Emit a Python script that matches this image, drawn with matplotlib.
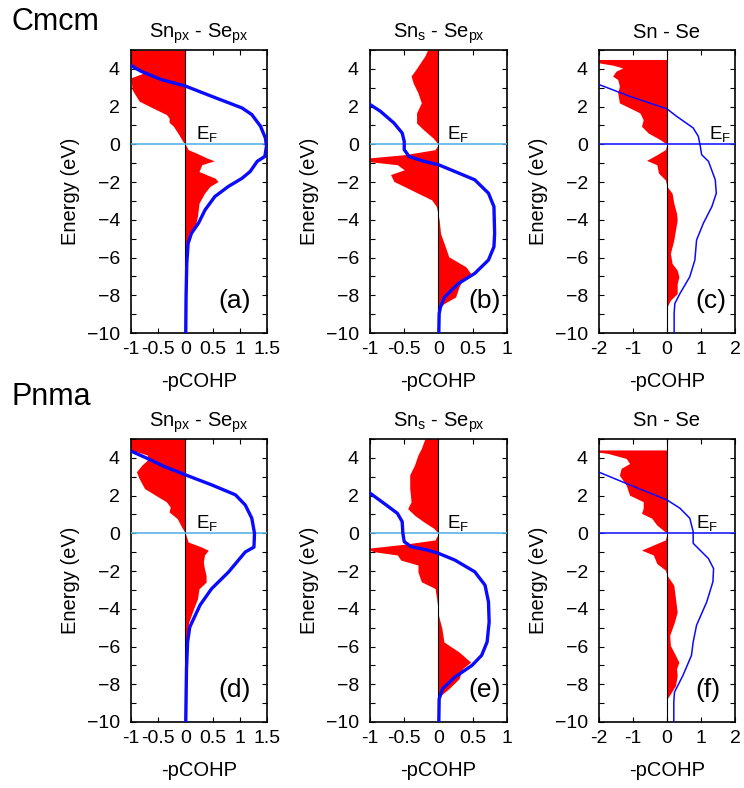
import numpy as np
import matplotlib
matplotlib.use("Agg")
import matplotlib.pyplot as plt
from matplotlib.ticker import MultipleLocator

plt.rcParams['font.family'] = ['Liberation Sans', 'DejaVu Sans']
plt.rcParams['mathtext.fontset'] = 'custom'
plt.rcParams['mathtext.rm'] = 'Liberation Sans'
plt.rcParams['mathtext.it'] = 'Liberation Sans:italic'

# -pCOHP (red fill) and integrated COHP (blue line), energy in eV
# (a) Cmcm Sn px - Se px
a_cohp_e = [5.0, 4.24, 4.06, 3.8, 3.53, 2.9, 2.29, 1.93, 1.58, 1.4, 1.17, 0.96, 0.51, 0.16, 0.0,
            -0.28, -0.46, -0.73, -0.87, -1.08, -1.44, -1.8, -1.97, -2.23, -2.59, -3.12, -3.83,
            -4.36, -4.7, -5.25, -6.1, -7.2, -8.0, -10.0]
a_cohp = [-1.3, -1.2, -0.9, -0.75, -1.0, -0.98, -0.85, -0.6, -0.35, -0.3, -0.3, -0.22, -0.12, -0.05, 0.0,
          0.05, 0.2, 0.4, 0.53, 0.3, 0.25, 0.55, 0.6, 0.45, 0.35, 0.25, 0.22,
          0.18, 0.07, 0.03, 0.01, 0.005, 0.0, 0.0]
a_icohp_e = [4.5, 4.18, 3.88, 3.44, 3.09, 2.55, 1.93, 1.58, 0.96, 0.34, -0.1, -0.64, -0.9, -1.44, -1.8,
             -2.23, -2.77, -3.48, -4.18, -4.72, -5.25, -6.3, -8.1, -10.0]
a_icohp = [-1.2, -1.0, -0.82, -0.45, 0.0, 0.48, 1.04, 1.22, 1.38, 1.47, 1.49, 1.46, 1.32, 1.19, 1.04,
           0.79, 0.54, 0.36, 0.24, 0.11, 0.05, 0.025, 0.012, 0.006]

# (b) Cmcm Sn s - Se px
b_cohp_e = [5.0, 4.68, 3.97, 3.62, 3.26, 2.73, 2.2, 1.67, 1.13, 0.78, 0.34, 0.0, -0.28, -0.55, -0.73,
            -0.9, -1.08, -1.35, -1.6, -1.97, -2.23, -2.59, -2.94, -3.3, -4.0, -4.72, -5.43, -5.96,
            -6.49, -6.84, -7.2, -7.55, -8.09, -8.44, -8.7, -10.0]
b_cohp = [-0.16, -0.2, -0.33, -0.4, -0.37, -0.3, -0.25, -0.32, -0.32, -0.22, -0.08, 0.0, -0.05, -0.5, -1.05,
          -1.05, -0.6, -0.5, -0.7, -0.65, -0.5, -0.3, -0.1, -0.03, 0.01, 0.03, 0.1, 0.15,
          0.4, 0.47, 0.35, 0.3, 0.25, 0.08, 0.0, 0.0]
b_icohp_e = [2.4, 2.11, 1.76, 1.13, 0.6, 0.16, -0.28, -0.64, -0.9, -1.08, -1.44, -1.88, -2.59, -3.3,
             -4.72, -5.43, -6.13, -6.84, -7.38, -8.09, -8.62, -8.97, -10.0]
b_icohp = [-1.1, -1.0, -0.85, -0.65, -0.53, -0.5, -0.5, -0.43, -0.21, 0.0, 0.24, 0.53, 0.73, 0.81,
           0.82, 0.81, 0.73, 0.53, 0.29, 0.09, 0.03, 0.01, 0.005]

# (c) Cmcm Sn - Se total
c_cohp_e = [4.5, 4.35, 4.2, 4.05, 3.88, 3.62, 3.44, 3.09, 2.73, 2.2, 1.67, 1.31, 0.96, 0.6, 0.25, 0.0,
            -0.28, -0.55, -0.85, -1.08, -1.52, -1.88, -2.23, -2.59, -3.12, -3.65, -4.0, -4.54, -5.07,
            -5.78, -6.31, -6.67, -7.02, -7.38, -7.91, -8.26, -8.62, -10.0]
c_cohp = [-2.3, -2.1, -1.6, -1.3, -1.5, -1.6, -1.45, -1.4, -1.45, -1.4, -0.8, -0.7, -0.75, -0.55, -0.2, 0.0,
          -0.05, -0.3, -0.6, -0.3, -0.25, -0.05, 0.0, 0.15, 0.2, 0.28, 0.3, 0.25, 0.2,
          0.1, 0.15, 0.3, 0.35, 0.3, 0.3, 0.1, 0.0, 0.0]
c_icohp_e = [3.4, 3.17, 2.55, 1.88, 1.49, 0.87, 0.43, 0.0, -0.55, -0.9, -1.88, -2.59, -3.3, -4.18, -5.07,
             -6.13, -7.02, -7.91, -8.44, -8.97, -10.0]
c_icohp = [-2.3, -2.0, -1.1, 0.0, 0.28, 0.77, 0.92, 0.97, 1.02, 1.22, 1.42, 1.45, 1.32, 1.07, 0.87,
           0.82, 0.67, 0.38, 0.23, 0.21, 0.21]

# (d) Pnma Sn px - Se px
d_cohp_e = [5.0, 4.4, 4.33, 4.15, 3.88, 3.62, 3.26, 2.9, 2.37, 2.02, 1.67, 1.4, 1.13, 0.78, 0.34, 0.0,
            -0.46, -0.73, -0.9, -1.15, -1.52, -1.88, -2.23, -2.59, -2.94, -3.48, -4.0, -4.72, -5.43,
            -7.2, -8.0, -10.0]
d_cohp = [-1.3, -1.2, -0.9, -0.7, -0.7, -0.8, -0.9, -0.85, -0.75, -0.55, -0.35, -0.28, -0.3, -0.15, -0.07, 0.0,
          0.05, 0.3, 0.42, 0.35, 0.33, 0.35, 0.38, 0.38, 0.25, 0.22, 0.15, 0.06, 0.03,
          0.01, 0.0, 0.0]
d_icohp_e = [4.6, 4.36, 3.97, 3.53, 3.1, 2.57, 2.04, 1.5, 0.8, 0.0, -0.73, -0.99, -2.06, -2.94, -3.8,
             -4.97, -5.76, -7.2, -10.0]
d_icohp = [-1.2, -1.0, -0.7, -0.38, 0.0, 0.48, 0.92, 1.1, 1.22, 1.27, 1.26, 1.1, 0.79, 0.48, 0.27,
           0.08, 0.04, 0.02, 0.006]

# (e) Pnma Sn s - Se px
e_cohp_e = [5.0, 4.5, 4.15, 3.62, 3.1, 2.39, 1.67, 1.31, 0.96, 0.62, 0.27, 0.0, -0.35, -0.58, -0.8,
            -0.97, -1.15, -1.42, -1.68, -2.04, -2.57, -2.92, -3.63, -4.34, -5.05, -5.76, -6.29,
            -6.83, -7.18, -7.71, -8.24, -8.6, -8.78, -10.0]
e_cohp = [-0.2, -0.25, -0.3, -0.35, -0.42, -0.42, -0.4, -0.45, -0.35, -0.22, -0.07, 0.0, -0.05, -0.5, -1.05,
          -0.95, -0.6, -0.55, -0.3, -0.3, -0.25, -0.05, -0.02, 0.0, 0.05, 0.08, 0.3,
          0.47, 0.35, 0.3, 0.15, 0.03, 0.0, 0.0]
e_icohp_e = [2.4, 2.13, 1.6, 1.06, 0.62, 0.0, -0.44, -0.71, -0.89, -1.06, -1.42, -2.04, -2.75, -3.63,
             -4.7, -5.76, -6.47, -7.0, -7.62, -8.24, -8.78, -10.0]
e_icohp = [-1.1, -1.0, -0.8, -0.6, -0.53, -0.52, -0.5, -0.4, -0.16, 0.0, 0.24, 0.53, 0.68, 0.73,
           0.74, 0.71, 0.63, 0.49, 0.24, 0.06, 0.01, 0.005]

# (f) Pnma Sn - Se total
f_cohp_e = [4.42, 4.32, 4.24, 3.97, 3.7, 3.44, 3.08, 2.55, 2.02, 1.68, 1.33, 1.06, 0.8, 0.44, 0.0,
            -0.35, -0.62, -0.89, -1.15, -1.6, -1.95, -2.22, -2.75, -3.46, -4.17, -4.7, -5.41, -5.94,
            -6.47, -6.83, -7.18, -7.54, -8.07, -8.51, -8.78, -10.0]
f_cohp = [-2.3, -2.1, -1.75, -1.2, -1.1, -1.35, -1.4, -1.2, -1.1, -0.7, -0.7, -0.75, -0.45, -0.3, 0.0,
          -0.05, -0.4, -0.75, -0.4, -0.3, -0.05, 0.0, 0.2, 0.25, 0.3, 0.22, 0.08, 0.1,
          0.25, 0.35, 0.28, 0.3, 0.25, 0.1, 0.0, 0.0]
f_icohp_e = [3.5, 3.24, 2.57, 1.77, 1.33, 0.8, 0.09, -0.53, -0.89, -1.34, -1.87, -2.57, -3.63, -4.87,
             -5.76, -6.47, -7.53, -8.42, -8.95, -10.0]
f_icohp = [-2.3, -2.0, -1.1, 0.0, 0.38, 0.67, 0.77, 0.77, 0.97, 1.22, 1.37, 1.35, 1.17, 0.87,
           0.77, 0.72, 0.47, 0.22, 0.2, 0.2]

titles = [r"Sn$_{\mathrm{px}}$ - Se$_{\mathrm{px}}$", r"Sn$_{\mathrm{s}}$ - Se$_{\mathrm{px}}$", "Sn - Se"]
panel_tags = ["(a)", "(b)", "(c)", "(d)", "(e)", "(f)"]
xlims = [(-1, 1.5), (-1, 1), (-2, 2)]
xticks = [[-1, -0.5, 0, 0.5, 1, 1.5], [-1, -0.5, 0, 0.5, 1], [-2, -1, 0, 1, 2]]
xticklabels = [["-1", "-0.5", "0", "0.5", "1", "1.5"], ["-1", "-0.5", "0", "0.5", "1"],
               ["-2", "-1", "0", "1", "2"]]
phases = ["Cmcm", "Pnma"]

panels = [
    (a_cohp_e, a_cohp, a_icohp_e, a_icohp),
    (b_cohp_e, b_cohp, b_icohp_e, b_icohp),
    (c_cohp_e, c_cohp, c_icohp_e, c_icohp),
    (d_cohp_e, d_cohp, d_icohp_e, d_icohp),
    (e_cohp_e, e_cohp, e_icohp_e, e_icohp),
    (f_cohp_e, f_cohp, f_icohp_e, f_icohp),
]

fig = plt.figure(figsize=(7.44, 7.88), dpi=100)

col_left = [0.1761, 0.4973, 0.8051]
col_w = [0.1828, 0.1841, 0.1828]
row_bottom = [0.5774, 0.0838]
row_h = 0.3591
ef_x = [0.48, 0.56, 0.81, 0.48, 0.56, 0.71]
tag_x = [0.765, 0.84, 0.825, 0.765, 0.84, 0.80]

for i, (ce, cv, ie, iv) in enumerate(panels):
    row, col = divmod(i, 3)
    ax = fig.add_axes([col_left[col], row_bottom[row], col_w[col], row_h])
    total = (col == 2)

    ax.fill_betweenx(ce, 0, cv, color='#ff0000', lw=0, zorder=2)
    ax.axvline(0, color='black', lw=0.8, zorder=3)
    ax.axhline(0, color='#1f1fff' if total else '#5ab4e6', lw=1.2, zorder=3)
    ax.plot(iv, ie, color='#0a0aff', lw=1.1 if total else 2.4, zorder=4)

    ax.set_xlim(*xlims[col])
    ax.set_ylim(-10, 5)
    ax.set_xticks(xticks[col])
    ax.set_xticklabels(xticklabels[col])
    ax.yaxis.set_major_locator(MultipleLocator(2))
    ax.yaxis.set_minor_locator(MultipleLocator(1))
    ax.tick_params(which='both', direction='in', top=True, right=True, length=3.4, width=0.8,
                   labelsize=14)
    ax.tick_params(axis='x', pad=6)
    ax.tick_params(axis='y', pad=8)
    for s in ax.spines.values():
        s.set_linewidth(1.2)

    ax.set_title(titles[col], fontsize=14.5, pad=9)
    ax.set_ylabel("Energy (eV)", fontsize=14.5, labelpad=5)
    ax.set_xlabel("-pCOHP", fontsize=14.5, labelpad=10)

    ax.text(ef_x[i], 0.685, r"E$_{\mathrm{F}}$", transform=ax.transAxes, fontsize=13.5,
            ha='left', va='baseline', zorder=5)
    ax.text(tag_x[i], 0.07, panel_tags[i], transform=ax.transAxes, fontsize=19,
            ha='center', va='bottom', zorder=5)

fig.text(0.016, 1 - 30 / 788, phases[0], fontsize=22, ha='left', va='baseline')
fig.text(0.016, 1 - 405 / 788, phases[1], fontsize=22, ha='left', va='baseline')

fig.savefig("out.png", dpi=100)
